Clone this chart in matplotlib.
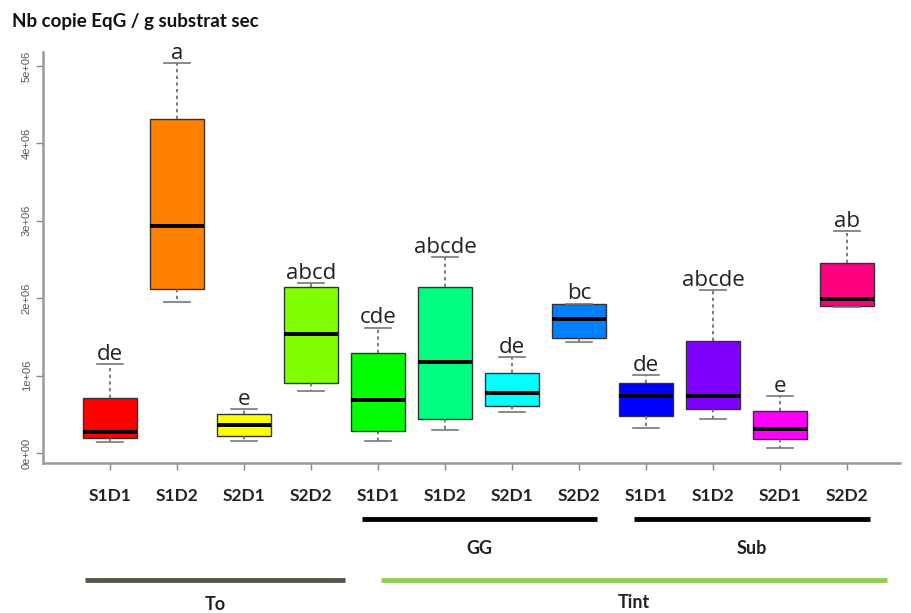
import numpy as np
import matplotlib.pyplot as plt
from matplotlib.transforms import blended_transform_factory

# values, in units of 1e6 copies
groups = ['S1D1', 'S1D2', 'S2D1', 'S2D2'] * 3
whislo = [0.146, 1.95, 0.16, 0.80, 0.16, 0.30, 0.53, 1.43, 0.32, 0.435, 0.07, 1.88]
q1 = [0.19, 2.12, 0.215, 0.90, 0.28, 0.44, 0.61, 1.49, 0.48, 0.57, 0.185, 1.90]
med = [0.275, 2.93, 0.36, 1.54, 0.68, 1.17, 0.77, 1.73, 0.73, 0.74, 0.31, 1.99]
q3 = [0.71, 4.31, 0.51, 2.14, 1.29, 2.14, 1.04, 1.92, 0.90, 1.45, 0.54, 2.46]
whishi = [1.15, 5.04, 0.565, 2.19, 1.62, 2.53, 1.24, 1.93, 1.01, 2.10, 0.74, 2.87]
letters = ['de', 'a', 'e', 'abcd', 'cde', 'abcde', 'de', 'bc', 'de', 'abcde', 'e', 'ab']
colors = ['#FF0000', '#FF8000', '#FFFF00', '#80FF00', '#00FF00', '#00FF80',
          '#00FFFF', '#0080FF', '#0000FF', '#8000FF', '#FF00FF', '#FF0080']
yticks = [0, 1, 2, 3, 4, 5]
ytick_labels = ['0e+00', '1e+06', '2e+06', '3e+06', '4e+06', '5e+06']

W, H = 911, 613
fig = plt.figure(figsize=(W / 100, H / 100), dpi=100)
ax = fig.add_axes([43 / W, 1 - 463 / H, 857 / W, (463 - 52) / H])

pos = np.arange(1, len(med) + 1)
stats = []
for i in range(len(med)):
    stats.append(dict(whislo=whislo[i] * 1e6, q1=q1[i] * 1e6, med=med[i] * 1e6,
                      q3=q3[i] * 1e6, whishi=whishi[i] * 1e6, fliers=[]))

bp = ax.bxp(stats, positions=pos, widths=0.8, patch_artist=True, showfliers=False,
            boxprops=dict(edgecolor='#333333', linewidth=1.0),
            medianprops=dict(color='black', linewidth=2.8),
            whiskerprops=dict(color='#666666', linewidth=1.2, linestyle=(0, (2, 2))),
            capprops=dict(color='#777777', linewidth=1.2),
            capwidths=0.4)
for patch, c in zip(bp['boxes'], colors):
    patch.set_facecolor(c)

for x, top, lab in zip(pos, whishi, letters):
    ax.annotate(lab, (x, top * 1e6), xytext=(0, 3), textcoords='offset points',
                ha='center', va='baseline', fontsize=16, family='Open Sans',
                color='#222222')

ax.set_xlim(0, 857 / 67)
ax.set_ylim(-0.129e6, 5.18e6)
ax.set_yticks([v * 1e6 for v in yticks])
ax.set_yticklabels(ytick_labels, rotation=90, va='center', fontsize=8,
                   color='#555555', family='Liberation Sans')
ax.set_xticks(pos)
ax.set_xticklabels(groups, fontsize=12.5, fontweight='bold', family='Lato', color='#222222')
ax.tick_params(axis='both', colors='#888888', length=5, width=1)
ax.tick_params(axis='x', labelcolor='#222222', pad=13)
ax.tick_params(axis='y', labelcolor='#555555', pad=3)
for s in ['top', 'right']:
    ax.spines[s].set_visible(False)
for s in ['left', 'bottom']:
    ax.spines[s].set_color('#999999')
    ax.spines[s].set_linewidth(1.8)

fig.text(12 / W, 1 - 22 / H, 'Nb copie EqG / g substrat sec', fontsize=13.5,
         fontweight='bold', family='Lato', va='center', color='#111111')

# group bars under the axis
tr = blended_transform_factory(ax.transData, fig.transFigure)
bars = [(4.76, 8.27, 519, 'black', 'GG', 548),
        (8.82, 12.34, 519, 'black', 'Sub', 548),
        (0.63, 4.51, 580, '#55574a', 'To', 604),
        (5.04, 12.6, 580, '#92d050', 'Tint', 602)]
for x0, x1, yb, c, name, yt in bars:
    ax.plot([x0, x1], [1 - yb / H, 1 - yb / H], color=c, linewidth=3.5,
            transform=tr, clip_on=False, solid_capstyle='butt')
    ax.text((x0 + x1) / 2, 1 - yt / H, name, transform=tr, ha='center', va='center',
            fontsize=13, fontweight='bold', family='Lato', color='#222222')

fig.savefig('out.png', dpi=100)
